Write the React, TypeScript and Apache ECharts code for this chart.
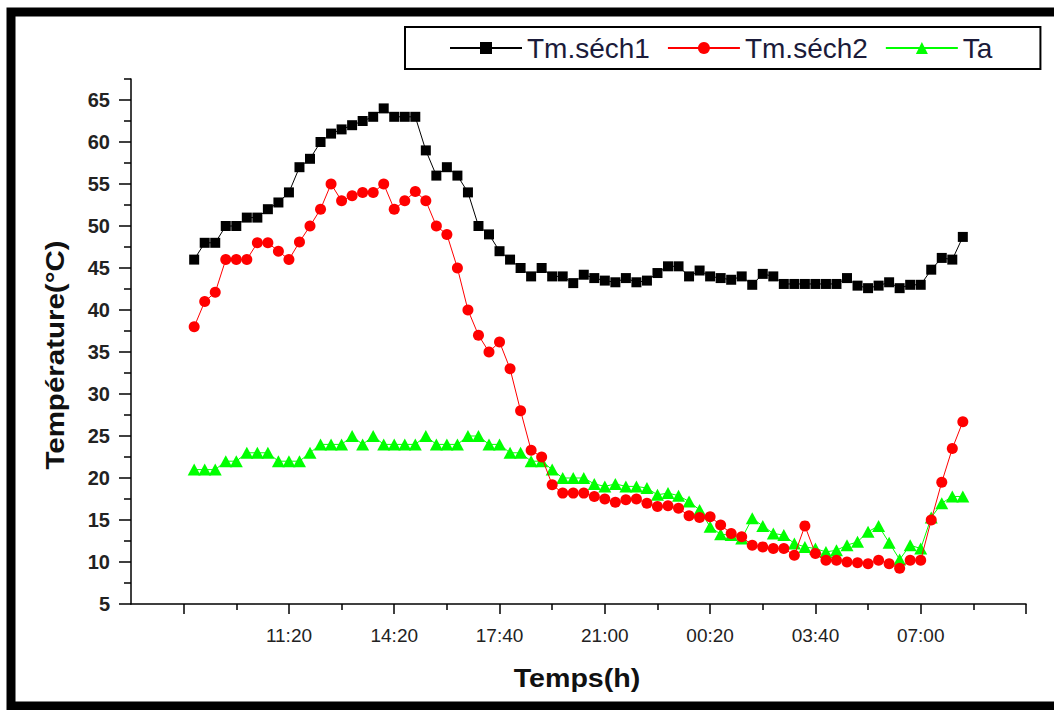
import React, { useEffect, useRef } from "react";
import * as echarts from "echarts";

// x positions are sample indices 1..74 (one sample per step)
const tickLabels: Record<number, string> = {
  10: "11:20",
  20: "14:20",
  30: "17:40",
  40: "21:00",
  50: "00:20",
  60: "03:40",
  70: "07:00",
};
const majorXTicks = [0, 10, 20, 30, 40, 50, 60, 70, 80];
const minorXTicks = [5, 15, 25, 35, 45, 55, 65, 75];
const majorYTicks = [5, 10, 15, 20, 25, 30, 35, 40, 45, 50, 55, 60, 65];
const minorYTicks = [7.5, 12.5, 17.5, 22.5, 27.5, 32.5, 37.5, 42.5, 47.5, 52.5, 57.5, 62.5, 67.5];

const tmSech1 = [
  46, 48, 48, 50, 50, 51, 51, 52, 52.8, 54,
  57, 58, 60, 61, 61.5, 62, 62.5, 63, 64, 63,
  63, 63, 59, 56, 57, 56, 54, 50, 49, 47,
  46, 45, 44, 45, 44, 44, 43.2, 44.2, 43.8, 43.5,
  43.3, 43.8, 43.3, 43.5, 44.4, 45.2, 45.2, 44, 44.7, 44,
  43.8, 43.6, 44, 43, 44.3, 44, 43.1, 43.1, 43.1, 43.1,
  43.1, 43.1, 43.8, 42.9, 42.6, 42.9, 43.3, 42.6, 43, 43,
  44.8, 46.2, 46, 48.7,
];
const tmSech2 = [
  38, 41, 42.1, 46, 46, 46, 48, 48, 47, 46,
  48.1, 50, 52, 55, 53, 53.6, 54, 54, 55, 52,
  53, 54.1, 53, 50, 49, 45, 40, 37, 35, 36.2,
  33, 28, 23.3, 22.5, 19.2, 18.2, 18.2, 18.2, 17.8, 17.5,
  17.1, 17.4, 17.5, 17, 16.6, 16.7, 16.4, 15.5, 15.3, 15.4,
  14.4, 13.4, 13, 12, 11.8, 11.6, 11.6, 10.8, 14.3, 11,
  10.2, 10.2, 10, 9.9, 9.8, 10.2, 9.8, 9.25, 10.2, 10.2,
  15, 19.5, 23.5, 26.7,
];
const ta = [
  21, 21, 21, 22, 22, 23, 23, 23, 22, 22,
  22, 23, 24, 24, 24, 25, 24, 25, 24, 24,
  24, 24, 25, 24, 24, 24, 25, 25, 24, 24,
  23, 23, 22, 22, 21, 20, 20, 20, 19.3, 19,
  19.3, 19, 19, 18.8, 18, 18.2, 17.9, 17.2, 16.2, 14.2,
  13.3, 13.2, 12.8, 15.2, 14.3, 13.4, 13.2, 12.2, 11.8, 11.6,
  11.2, 11.4, 12, 12.4, 13.6, 14.3, 12.3, 10.3, 12, 11.6,
  15.3, 17, 17.8, 17.8,
];

const FONT = "'Liberation Sans', Arial, sans-serif";

const toPoints = (arr: number[]) => arr.map((v, i) => [i + 1, v]);

export default function App() {
  const ref = useRef<HTMLDivElement>(null);
  useEffect(() => {
    if (!ref.current) return;
    const chart = echarts.init(ref.current, undefined, { renderer: "svg" });
    const axisLineStyle = { color: "#000", width: 1.5 };
    chart.setOption({
      animation: false,
      backgroundColor: "#fff",
      grid: { left: 131, right: 28, top: 79, bottom: 106, containLabel: false },
      legend: {
        left: 405,
        top: 27,
        orient: "horizontal",
        padding: [4, 48, 4, 44],
        borderColor: "#000",
        borderWidth: 2,
        itemWidth: 72,
        itemHeight: 15,
        itemGap: 17,
        lineStyle: { width: 2 },
        textStyle: { fontSize: 28, color: "#1b1b3a", fontFamily: FONT, lineHeight: 34 },
        data: ["Tm.séch1", "Tm.séch2", "Ta"],
      },
      xAxis: [
        {
          type: "value",
          min: -5,
          max: 80,
          position: "bottom",
          axisLine: { show: true, onZero: false, lineStyle: axisLineStyle },
          axisTick: { show: true, customValues: majorXTicks, length: 10, lineStyle: axisLineStyle },
          axisLabel: {
            customValues: Object.keys(tickLabels).map(Number),
            formatter: (v: number) => tickLabels[v] ?? "",
            margin: 22,
            fontSize: 19,
            color: "#222",
            fontFamily: FONT,
          },
          splitLine: { show: false },
        },
        {
          type: "value",
          min: -5,
          max: 80,
          position: "bottom",
          axisLine: { show: false, onZero: false },
          axisTick: { show: true, customValues: minorXTicks, length: 6, lineStyle: axisLineStyle },
          axisLabel: { show: false },
          splitLine: { show: false },
        },
      ],
      yAxis: [
        {
          type: "value",
          min: 5,
          max: 67.5,
          position: "left",
          axisLine: { show: true, onZero: false, lineStyle: axisLineStyle },
          axisTick: { show: true, customValues: majorYTicks, length: 12, lineStyle: axisLineStyle },
          axisLabel: {
            customValues: majorYTicks,
            margin: 21,
            fontSize: 20,
            fontWeight: "bold",
            color: "#222",
            fontFamily: FONT,
          },
          splitLine: { show: false },
        },
        {
          type: "value",
          min: 5,
          max: 67.5,
          position: "left",
          axisLine: { show: false, onZero: false },
          axisTick: { show: true, customValues: minorYTicks, length: 7, lineStyle: axisLineStyle },
          axisLabel: { show: false },
          splitLine: { show: false },
        },
      ],
      series: [
        {
          name: "Tm.séch1",
          type: "line",
          xAxisIndex: 0,
          yAxisIndex: 0,
          data: toPoints(tmSech1),
          symbol: "rect",
          symbolSize: 10,
          itemStyle: { color: "#000" },
          lineStyle: { color: "#000", width: 1 },
          z: 2,
        },
        {
          name: "Tm.séch2",
          type: "line",
          xAxisIndex: 0,
          yAxisIndex: 0,
          data: toPoints(tmSech2),
          symbol: "circle",
          symbolSize: 11,
          itemStyle: { color: "#ff0000" },
          lineStyle: { color: "#ff0000", width: 1 },
          z: 4,
        },
        {
          name: "Ta",
          type: "line",
          xAxisIndex: 0,
          yAxisIndex: 0,
          data: toPoints(ta),
          symbol: "triangle",
          symbolSize: [13, 12],
          itemStyle: { color: "#00ff00" },
          lineStyle: { color: "#00ff00", width: 1 },
          z: 3,
        },
      ],
      graphic: [
        {
          type: "rect",
          silent: true,
          shape: { x: 11, y: 12, width: 1100, height: 694 },
          style: { fill: "none", stroke: "#000", lineWidth: 9 },
          z: 100,
        },
        {
          type: "text",
          x: 55,
          y: 355,
          rotation: Math.PI / 2,
          scaleX: 1.18,
          style: {
            text: "Température(°C)",
            fontSize: 25,
            fontWeight: "bold",
            fontFamily: FONT,
            fill: "#111",
            align: "center",
            verticalAlign: "middle",
          },
        },
        {
          type: "text",
          x: 577,
          y: 678,
          scaleX: 1.1,
          style: {
            text: "Temps(h)",
            fontSize: 26,
            fontWeight: "bold",
            fontFamily: FONT,
            fill: "#111",
            align: "center",
            verticalAlign: "middle",
          },
        },
      ],
    });
    return () => chart.dispose();
  }, []);
  return (
    <div
      ref={ref}
      style={{ position: "fixed", left: 0, top: 0, width: 1054, height: 710 }}
    />
  );
}
